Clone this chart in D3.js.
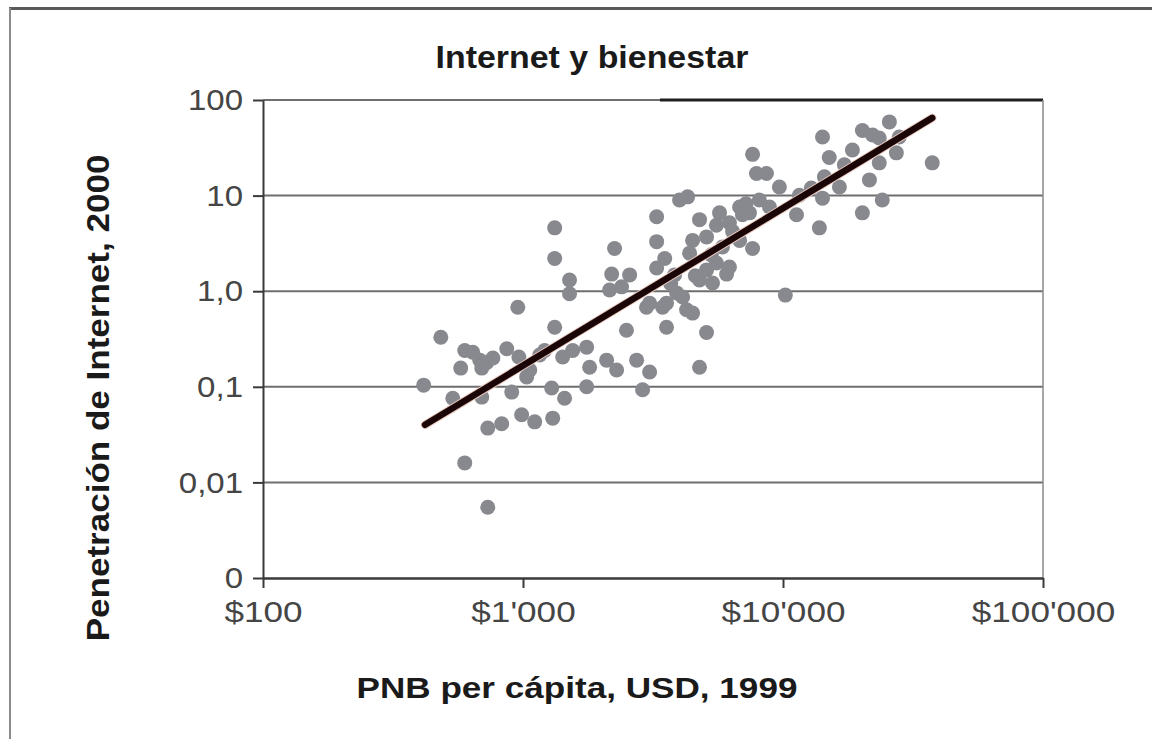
<!DOCTYPE html>
<html>
<head>
<meta charset="utf-8">
<script src="https://cdn.jsdelivr.net/npm/d3@7"></script>
<style>
  html, body { margin: 0; padding: 0; background: #fff; }
  svg { display: block; }
  text { font-family: "Liberation Sans", Arial, sans-serif; }
</style>
</head>
<body>
<svg id="chart" width="1152" height="739"></svg>
<script>
// GNP per capita (USD, 1999) for each country
const gnpPerCapita = [
  415, 483, 597, 641, 682, 726, 766, 694, 576, 866,
  537, 694, 905, 732, 828, 988, 1109, 1301, 597, 732,
  955, 1324, 1033, 1159, 1211, 1062, 1289, 1445, 1421, 1553,
  1757, 1804, 2097, 2291, 2735, 3069, 1757, 2884, 2500, 2985,
  3565, 5081, 4775, 1324, 1324, 2250, 1510, 1510, 2193, 2571,
  2153, 2394, 3069, 3443, 3899, 4257, 4490, 3266, 3266, 3508,
  3266, 4373, 4297, 4000, 4775, 4490, 5081, 5848, 5546, 6223,
  5081, 6067, 5358, 5700, 6808, 7431, 6223, 7907, 8636, 7638,
  9685, 7638, 10210, 8110, 8870, 14190, 20200, 22100, 25650, 23450,
  15060, 18490, 27290, 37500, 23450, 21500, 14430, 14190, 24090, 11270,
  20200, 13800, 16480, 17220, 28000, 11560, 12850, 5546, 6982, 4775,
  3828, 6808, 4111, 3565, 964, 5300, 6400, 7200, 4600, 3700
];
// Internet penetration in 2000 (% of population), same order
const internetPenetration = [
  0.104, 0.33, 0.24, 0.23, 0.19, 0.18, 0.20, 0.157, 0.157, 0.25,
  0.076, 0.078, 0.088, 0.037, 0.041, 0.051, 0.043, 0.047, 0.016, 0.0055,
  0.68, 0.42, 0.127, 0.215, 0.24, 0.15, 0.097, 0.076, 0.205, 0.24,
  0.26, 0.16, 0.19, 0.15, 0.19, 0.143, 0.10, 0.093, 0.39, 0.68,
  0.42, 0.37, 0.16, 2.2, 4.6, 2.8, 1.31, 0.94, 1.51, 1.48,
  1.03, 1.11, 0.75, 0.68, 0.96, 0.64, 0.59, 6.0, 3.3, 2.2,
  1.75, 2.5, 9.7, 9.0, 5.6, 3.4, 3.7, 2.9, 1.97, 1.79,
  1.67, 1.51, 1.22, 6.6, 7.6, 6.6, 5.2, 17, 17, 27,
  12.3, 2.8, 0.91, 9.0, 7.6, 41, 48, 43, 59, 40,
  25, 30, 28, 22, 22, 14.6, 15.7, 9.4, 9.0, 6.3,
  6.6, 4.6, 12.3, 21, 41, 10.1, 12.0, 4.9, 6.3, 1.31,
  1.48, 3.4, 0.87, 0.75, 0.205, 2.4, 4.2, 8.2, 1.45, 1.2
];
// Log-log trend line end points
const trendGnp = [420, 37500];
const trendPenetration = [0.04, 65];

// Axis ticks and their labels
const xTickValues = [100, 1000, 10000, 100000];
const xTickLabels = ["$100", "$1'000", "$10'000", "$100'000"];
const yTickValues = [0.001, 0.01, 0.1, 1, 10, 100];
const yTickLabels = ["0", "0,01", "0,1", "1,0", "10", "100"];

const chartTitle = "Internet y bienestar";
const xTitle = "PNB per cápita, USD, 1999";
const yTitle = "Penetración de Internet, 2000";

const svg = d3.select("#chart");
const plot = { left: 263, right: 1043, top: 100, bottom: 578 };

const x = d3.scaleLog().domain([100, 100000]).range([plot.left, plot.right]);
const y = d3.scaleLog().domain([0.001, 100]).range([plot.bottom, plot.top]);

// stretch text horizontally by a factor (wide glyph look)
function widen(sel, k) {
  sel.each(function () {
    const w = this.getComputedTextLength();
    d3.select(this).attr("textLength", w * k).attr("lengthAdjust", "spacingAndGlyphs");
  });
}

// outer frame
svg.append("line").attr("x1", 9).attr("x2", 1152).attr("y1", 8.5).attr("y2", 8.5)
  .attr("stroke", "#5a5a5a").attr("stroke-width", 3);
svg.append("line").attr("x1", 10).attr("x2", 10).attr("y1", 8).attr("y2", 739)
  .attr("stroke", "#8a8a8a").attr("stroke-width", 2);

// horizontal gridlines
svg.append("g").selectAll("line")
  .data(yTickValues.slice(1))
  .join("line")
  .attr("x1", plot.left).attr("x2", plot.right)
  .attr("y1", d => y(d)).attr("y2", d => y(d))
  .attr("stroke", "#6e6e6e").attr("stroke-width", 2);
// darker right half of the top edge
svg.append("line").attr("x1", 660).attr("x2", plot.right)
  .attr("y1", y(100)).attr("y2", y(100))
  .attr("stroke", "#1e1e1e").attr("stroke-width", 3);

// right border of the plot area
svg.append("line").attr("x1", plot.right).attr("x2", plot.right)
  .attr("y1", plot.top).attr("y2", plot.bottom)
  .attr("stroke", "#8a8a8a").attr("stroke-width", 1.5);

// y axis
const yAxis = d3.axisLeft(y)
  .tickValues(yTickValues)
  .tickFormat((d, i) => yTickLabels[i])
  .tickSizeInner(10).tickSizeOuter(0).tickPadding(10);
const gy = svg.append("g").attr("transform", `translate(${plot.left},0)`).call(yAxis);
gy.select(".domain").attr("stroke", "#3a3a3a").attr("stroke-width", 2);
gy.selectAll(".tick line").attr("stroke", "#3a3a3a").attr("stroke-width", 2);
gy.selectAll(".tick text").attr("font-size", 30).attr("fill", "#454545").attr("font-family", "Liberation Sans, Arial, sans-serif");

// x axis
const xAxis = d3.axisBottom(x)
  .tickValues(xTickValues)
  .tickFormat((d, i) => xTickLabels[i])
  .tickSizeInner(10).tickSizeOuter(0).tickPadding(13);
const gx = svg.append("g").attr("transform", `translate(0,${plot.bottom})`).call(xAxis);
gx.select(".domain").attr("stroke", "#3a3a3a").attr("stroke-width", 2.5);
gx.selectAll(".tick line").attr("stroke", "#3a3a3a").attr("stroke-width", 2);
gx.selectAll(".tick text").attr("font-size", 30).attr("fill", "#454545").attr("font-family", "Liberation Sans, Arial, sans-serif");

// scatter points
const points = gnpPerCapita.map((g, i) => ({ g, p: internetPenetration[i] }));
svg.append("g").selectAll("circle")
  .data(points)
  .join("circle")
  .attr("cx", d => x(d.g))
  .attr("cy", d => y(d.p))
  .attr("r", 7.5)
  .attr("fill", "#88898f");

// trend line
const trend = trendGnp.map((g, i) => ({ g, p: trendPenetration[i] }));
const lineGen = d3.line().x(d => x(d.g)).y(d => y(d.p));
svg.append("path").datum(trend)
  .attr("d", lineGen)
  .attr("fill", "none")
  .attr("stroke", "#e9c9c0").attr("stroke-width", 8.5).attr("stroke-linecap", "round");
svg.append("path").datum(trend)
  .attr("d", lineGen)
  .attr("fill", "none")
  .attr("stroke", "#1a0606").attr("stroke-width", 6.5).attr("stroke-linecap", "round");

// titles
const t1 = svg.append("text").attr("x", 592).attr("y", 68)
  .attr("text-anchor", "middle").attr("font-size", 32).attr("font-weight", "bold")
  .attr("fill", "#1a1a1a").text(chartTitle);
const t2 = svg.append("text").attr("x", 577).attr("y", 698)
  .attr("text-anchor", "middle").attr("font-size", 30).attr("font-weight", "bold")
  .attr("fill", "#1a1a1a").text(xTitle);
const t3 = svg.append("text")
  .attr("transform", "translate(109,398) rotate(-90)")
  .attr("text-anchor", "middle").attr("font-size", 31).attr("font-weight", "bold")
  .attr("fill", "#1a1a1a").text(yTitle);

widen(t1, 1.06);
widen(t2, 1.17);
widen(t3, 1.13);
widen(gx.selectAll(".tick text"), 1.17);
widen(gy.selectAll(".tick text"), 1.1);
</script>
</body>
</html>
